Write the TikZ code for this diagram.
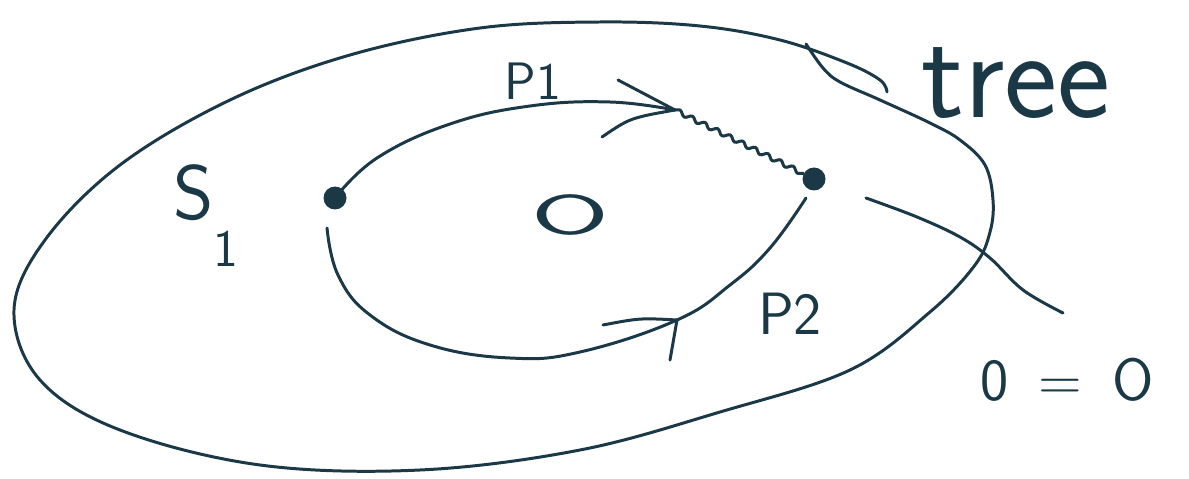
\documentclass[tikz,border=0pt]{standalone}
\usepackage{fontspec}
\usetikzlibrary{decorations.pathmorphing}
\definecolor{ink}{RGB}{27,56,70}
\begin{document}
\begin{tikzpicture}[x=0.02cm, y=-0.02cm,
  pen/.style={draw=ink, line width=1.7pt, line cap=round, line join=round},
  dot/.style={circle, fill=ink, minimum size=0.46cm, inner sep=0pt},
  lbl/.style={text=ink, inner sep=0pt, anchor=base},
  wavy/.style={pen, decorate, decoration={snake, amplitude=1.3pt, segment length=8pt}}
]
\useasboundingbox (0,0) rectangle (1189,479);
\node[dot] (src) at (335,198) {};
\node[dot] (dst) at (814,179) {};
\node[lbl, font=\sffamily\fontsize{44}{44}\selectfont] (s1) at (206,220) {S\raisebox{-0.6em}{\fontsize{30}{30}\selectfont 1}};
\node[lbl, font=\sffamily\fontsize{30}{30}\selectfont] (p1) at (533,100) {P1};
\node[lbl, font=\sffamily\fontsize{34}{34}\selectfont] (p2) at (790,335) {P2};
\node[lbl, font=\sffamily\fontsize{72}{72}\selectfont] (tree) at (1016,118) {tree};
\node[lbl, font=\sffamily\fontsize{32}{32}\selectfont] (hole) at (570,235) {\scalebox{2}[1]{O}};
\node[lbl, font=\sffamily\fontsize{34}{34}\selectfont] (eq) at (1067,400) {0\hspace{0.5em}=\hspace{0.5em}O};

\coordinate (p1tip) at (675,110);
\coordinate (p1up) at (618,80);
\coordinate (p1lo) at (602,137);
\coordinate (p2a) at (327,228);
\coordinate (p2tip) at (677,320);
\coordinate (p2b) at (806,198);
\coordinate (p2up) at (603,325);
\coordinate (p2lo) at (670,360);
\coordinate (ptra) at (866,198);
\coordinate (ptrb) at (1063,313);

\draw[pen] plot[smooth, tension=0.6] coordinates {(887,92) (880,80) (847,63) (780,40) (700,26) (600,22) (480,28) (350,55) (230,100) (120,165) (45,240) (14,310) (40,380) (120,430) (260,465) (420,470) (580,450) (720,412) (850,370) (930,312) (975,265) (990,232) (993,200) (985,165) (960,140) (930,123) (880,100) (840,82) (823,68) (806,44)};
\draw[pen] plot[smooth, tension=0.7] coordinates {(src) (377,158) (450,124) (530,106) (610,102) (p1tip)};
\draw[pen] (p1up) -- (p1tip);
\draw[pen] (p1lo) .. controls (630,118) .. (p1tip);
\draw[wavy] (p1tip) -- (dst);
\draw[pen] plot[smooth, tension=0.7] coordinates {(p2a) (338,275) (370,315) (430,345) (510,358) (580,352) (p2tip) (730,285) (770,248) (p2b)};
\draw[pen] (p2up) .. controls (640,318) .. (p2tip) -- (p2lo);
\draw[pen] plot[smooth, tension=0.6] coordinates {(ptra) (917,217) (960,237) (990,258) (1023,290) (ptrb)};
\end{tikzpicture}
\end{document}
